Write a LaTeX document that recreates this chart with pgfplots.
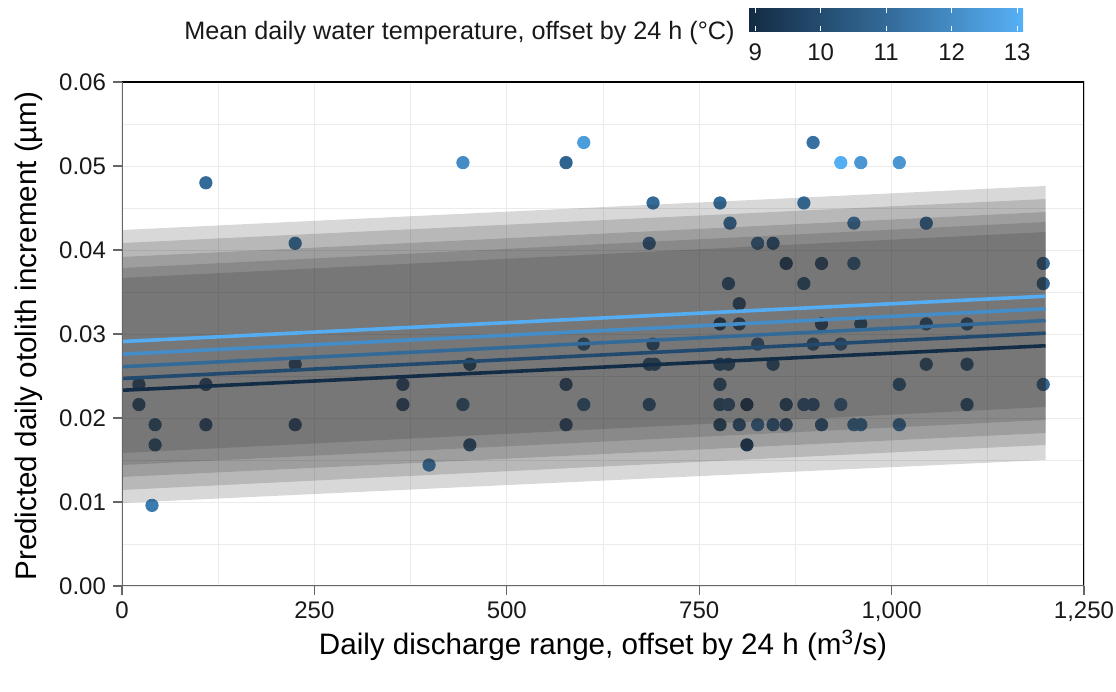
\documentclass[border=0pt]{standalone}
\usepackage{fontspec}
\setmainfont{Liberation Sans}
\usepackage{pgfplots}
\pgfplotsset{compat=1.18}
\definecolor{c9}{RGB}{20,45,70}
\definecolor{c10}{RGB}{34,73,110}
\definecolor{c11}{RGB}{51,106,152}
\definecolor{c12}{RGB}{68,141,200}
\definecolor{c13}{RGB}{84,173,242}
\definecolor{gridc}{RGB}{235,235,235}
\definecolor{bandc}{RGB}{40,40,40}
\pgfplotstableread{
x y t
109 0.0480 11.0
39 0.0096 11.5
399 0.0144 11.3
225 0.0408 11.0
443 0.0504 12.0
577 0.0504 10.8
600 0.0528 12.5
690 0.0456 11.0
777 0.0456 11.0
790 0.0432 10.9
886 0.0456 11.2
898 0.0528 11.2
934 0.0504 13.0
960 0.0504 12.3
1010 0.0504 12.3
951 0.0432 11.3
1045 0.0432 10.9
22 0.0240 10.3
22 0.0216 10.3
43 0.0192 10.5
43 0.0168 10.5
109 0.0240 10.3
109 0.0192 10.3
225 0.0264 10.3
225 0.0192 10.3
365 0.0240 10.3
365 0.0216 10.3
685 0.0408 10.7
826 0.0408 11.0
846 0.0408 10.5
788 0.0360 10.6
802 0.0336 10.3
777 0.0312 9.8
802 0.0312 10.3
600 0.0288 10.8
690 0.0288 10.6
826 0.0288 11.0
452 0.0264 10.1
685 0.0264 10.5
692 0.0264 10.5
777 0.0264 10.5
788 0.0264 10.5
846 0.0264 10.6
577 0.0240 10.3
777 0.0240 10.5
443 0.0216 10.8
600 0.0216 10.9
685 0.0216 10.7
777 0.0216 10.5
788 0.0216 10.7
812 0.0216 9.4
577 0.0192 10.3
777 0.0192 10.1
802 0.0192 10.5
826 0.0192 11.2
846 0.0192 10.7
452 0.0168 10.3
812 0.0168 9.4
863 0.0384 9.8
909 0.0384 10.3
951 0.0384 11.0
1197 0.0384 10.9
886 0.0360 10.5
1197 0.0360 10.8
909 0.0312 10.3
960 0.0312 10.6
1045 0.0312 10.6
1098 0.0312 10.5
898 0.0288 10.8
934 0.0288 11.0
1045 0.0264 10.5
1098 0.0264 10.5
1010 0.0240 10.8
1197 0.0240 11.0
863 0.0216 10.1
886 0.0216 10.7
898 0.0216 10.7
934 0.0216 11.2
1098 0.0216 10.5
863 0.0192 10.3
909 0.0192 10.6
951 0.0192 11.2
960 0.0192 11.2
1010 0.0192 11.2
}\pts
\pgfplotsset{
  panel/.style={
    at={(61pt,53pt)}, anchor=south west,
    scale only axis, width=481pt, height=252pt,
    xmin=0, xmax=1250, ymin=0, ymax=0.06,
  },
}
\begin{document}
\begin{tikzpicture}
\path[use as bounding box] (0,0) rectangle (558pt,346pt);
\begin{axis}[
  panel,
  scaled ticks=false,
  xtick={0,250,500,750,1000,1250},
  xticklabels={0,250,500,750,{1,000},{1,250}},
  ytick={0,0.01,0.02,0.03,0.04,0.05,0.06},
  yticklabels={0.00,0.01,0.02,0.03,0.04,0.05,0.06},
  minor xtick={125,375,625,875,1125},
  minor ytick={0.005,0.015,0.025,0.035,0.045,0.055},
  grid=both,
  major grid style={gridc, line width=0.5pt},
  minor grid style={gridc, line width=0.5pt},
  tick align=outside, major tick length=4.5pt, minor tick length=0pt,
  xtick pos=bottom, ytick pos=left,
  tick style={black!60, line width=0.55pt},
  axis line style={draw=none},
  ticklabel style={font=\fontsize{12}{14}\selectfont, text=black!90},
  colormap={gg}{rgb255=(19,43,67) rgb255=(51,106,152) rgb255=(86,177,247)},
  point meta min=8.89, point meta max=13.09,
  colorbar horizontal,
  colorbar style={
    at={(parent axis.south west)}, anchor=south west,
    xshift=313pt, yshift=286pt,
    scale only axis, width=137.5pt, height=11.5pt,
    xtick={9,10,11,12,13}, xticklabels={9,10,11,12,13},
    xtick pos=both, xticklabel pos=lower,
    tick align=inside, major tick length=2.3pt,
    tick style={white, line width=0.6pt},
    axis line style={draw=none},
    xticklabel style={font=\fontsize{12}{14}\selectfont, text=black!90, yshift=-3pt},
  },
]
\addplot[scatter, only marks, mark=*, mark size=3.1pt,
  scatter/use mapped color={draw=mapped color, fill=mapped color},
  point meta=explicit] table[x=x, y=y, meta=t] {\pts};
\end{axis}
\begin{axis}[panel, hide axis]
\addplot[draw=none, fill=bandc, fill opacity=0.18] coordinates {(0,0.04238) (1200,0.04762) (1200,0.01500) (0,0.00988)} -- cycle;
\addplot[draw=none, fill=bandc, fill opacity=0.18] coordinates {(0,0.04083) (1200,0.04607) (1200,0.01679) (0,0.01143)} -- cycle;
\addplot[draw=none, fill=bandc, fill opacity=0.18] coordinates {(0,0.03917) (1200,0.04452) (1200,0.01821) (0,0.01298)} -- cycle;
\addplot[draw=none, fill=bandc, fill opacity=0.18] coordinates {(0,0.03786) (1200,0.04333) (1200,0.01976) (0,0.01440)} -- cycle;
\addplot[draw=none, fill=bandc, fill opacity=0.18] coordinates {(0,0.03667) (1200,0.04214) (1200,0.02131) (0,0.01583)} -- cycle;
\addplot[c9, line width=1.8pt] coordinates {(0,0.0233) (1200,0.0286)};
\addplot[c10, line width=1.8pt] coordinates {(0,0.0247) (1200,0.0301)};
\addplot[c11, line width=1.8pt] coordinates {(0,0.0261) (1200,0.0316)};
\addplot[c12, line width=1.8pt] coordinates {(0,0.0276) (1200,0.0330)};
\addplot[c13, line width=1.8pt] coordinates {(0,0.0291) (1200,0.0345)};
\draw[black, line width=0.6pt] (rel axis cs:0,1) -- (rel axis cs:1,1) -- (rel axis cs:1,0);
\draw[black!60, line width=0.6pt] (rel axis cs:0,1) -- (rel axis cs:0,0) -- (rel axis cs:1,0);
\end{axis}
\node[anchor=base east, inner sep=0pt, font=\fontsize{12.6}{14}\selectfont, text=black!90] at ({735*0.5pt},{(692-40)*0.5pt}) {Mean daily water temperature, offset by 24 h (°C)};
\node[anchor=base, inner sep=0pt, font=\fontsize{14.8}{17}\selectfont] at ({603*0.5pt},{(692-655)*0.5pt}) {Daily discharge range, offset by 24 h (m\textsuperscript{3}/s)};
\node[anchor=base, inner sep=0pt, rotate=90, font=\fontsize{14.8}{17}\selectfont] at ({36*0.5pt},{(692-336)*0.5pt}) {Predicted daily otolith increment (µm)};
\end{tikzpicture}
\end{document}
